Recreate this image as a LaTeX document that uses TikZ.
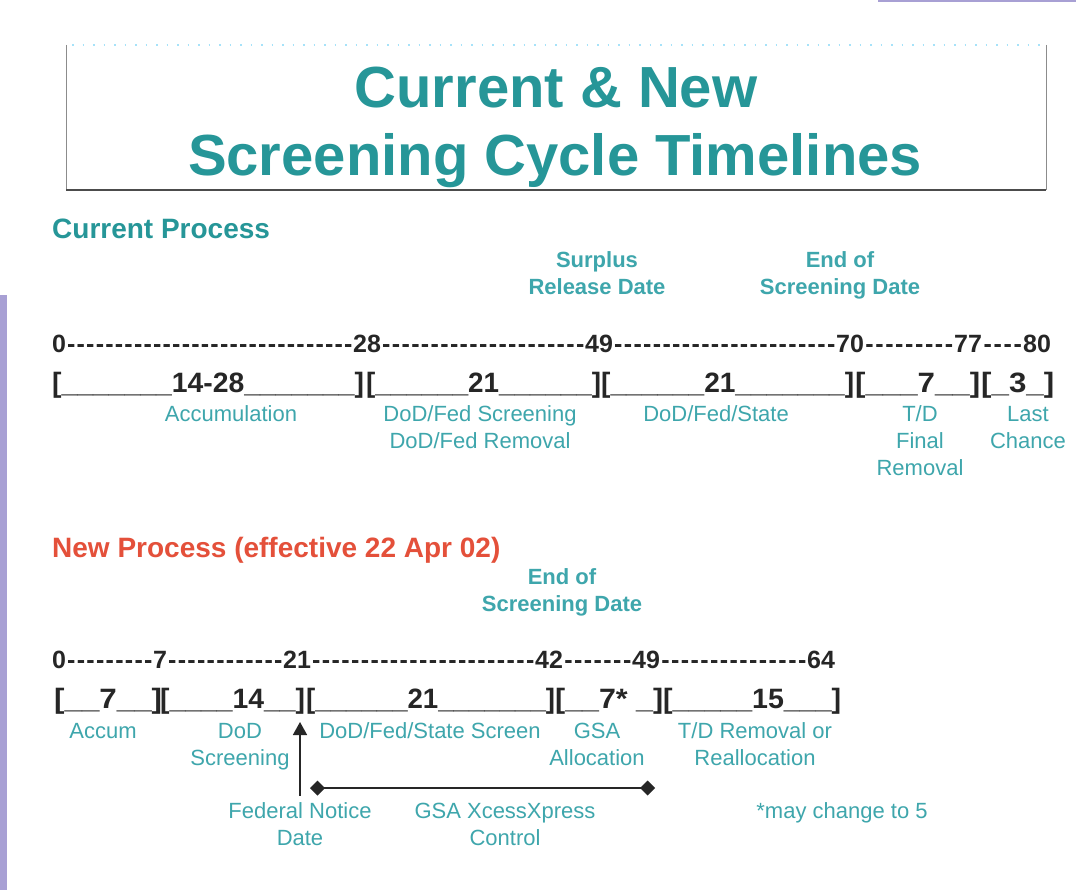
\documentclass[tikz,border=0pt]{standalone}
\usepackage{fontspec}
\setmainfont{Liberation Sans}
\usepackage{graphicx}
\usetikzlibrary{arrows.meta,calc}
\definecolor{tealT}{RGB}{38,150,152}
\definecolor{tealL}{RGB}{62,166,172}
\definecolor{redH}{RGB}{228,80,58}
\definecolor{lav}{RGB}{168,160,212}
\definecolor{ink}{RGB}{38,38,38}
\newcommand\numfont{\fontsize{25}{25}\selectfont\bfseries}
\newcommand\segfont{\fontsize{28}{28}\selectfont\bfseries}
\newcommand\seg[2]{\resizebox{#1}{\height}{#2}}
\newcommand\hyfill[2]{%
  \path let \p1=(#1.base east), \p2=(#2.base west) in
    node[numrow, anchor=base west] at (\p1)
      {\hbox to \dimexpr\x2-\x1\relax{\xleaders\hbox{\kern0.6pt-\kern0.6pt}\hfill}};}
\tikzset{
  numrow/.style={font=\numfont, text=ink, inner sep=0pt, anchor=base west},
  segrow/.style={font=\segfont, text=ink, inner sep=0pt, anchor=base west},
  lab/.style={font=\fontsize{22}{27}\selectfont, text=tealL, align=center, inner sep=0pt, anchor=base},
  blab/.style={lab, font=\fontsize{22}{27}\selectfont\bfseries},
  head/.style={font=\fontsize{28}{30}\selectfont\bfseries, inner sep=0pt, anchor=base west},
  ttl/.style={font=\fontsize{58}{60}\selectfont\bfseries, text=tealT, inner sep=0pt, anchor=base},
  dtip/.tip={Turned Square[width=15pt,length=15pt]},
}
\begin{document}
\begin{tikzpicture}[x=1pt,y=-1pt]
\useasboundingbox (0,0) rectangle (1076,890);
\fill[white] (0,0) rectangle (1076,890);
% side decorations
\fill[lav] (0,295) rectangle (7,890);
\fill[lav] (878,0) rectangle (1076,2);
% title box
\draw[black!45, line width=1pt] (66,45) -- (66,190);
\draw[black!45, line width=1pt] (1046,45) -- (1046,190);
\draw[black!70, line width=2.5pt] (66,190) -- (1046,190);
\draw[cyan!35, line width=1.2pt, dash pattern=on 1.5pt off 9pt] (72,45) -- (1040,45);
\node[ttl] (t1) at (556,108) {Current \& New};
\node[ttl] (t2) at (555,176) {Screening Cycle Timelines};

% ---------- current process ----------
\node[head, text=tealT] (hc) at (52,239) {Current Process};
% (multi-line labels: y is the baseline of the last line)
\node[blab] (srd) at (597,295) {Surplus\\Release Date};
\node[blab] (esd) at (840,295) {End of\\Screening Date};

\node[numrow] (c0)  at (52,353)  {0};
\node[numrow] (c28) at (353,353) {28};
\node[numrow] (c49) at (585,353) {49};
\node[numrow] (c70) at (836,353) {70};
\node[numrow] (c77) at (954,353) {77};
\node[numrow] (c80) at (1023,353) {80};
\hyfill{c0}{c28}
\hyfill{c28}{c49}
\hyfill{c49}{c70}
\hyfill{c70}{c77}
\hyfill{c77}{c80}

\node[segrow] (cs1) at (52,392)  {\seg{312pt}{[\_\_\_\_\_\_\_14-28\_\_\_\_\_\_\_]}};
\node[segrow] (cs2) at (366,392) {\seg{235pt}{[\_\_\_\_\_\_21\_\_\_\_\_\_]}};
\node[segrow] (cs3) at (601,392) {\seg{253pt}{[\_\_\_\_\_\_21\_\_\_\_\_\_\_]}};
\node[segrow] (cs4) at (855,392) {\seg{125pt}{[\_\_\_7\_\_]}};
\node[segrow] (cs5) at (981,392) {\seg{73pt}{[\_3\_]}};

\node[lab] (acc)  at (231,421)  {Accumulation};
\node[lab] (dfs)  at (480,448)  {DoD/Fed Screening\\DoD/Fed Removal};
\node[lab] (dfst) at (716,421)  {DoD/Fed/State};
\node[lab] (tdf)  at (920,475)  {T/D\\Final\\Removal};
\node[lab] (lc)   at (1028,448) {Last\\Chance};

% ---------- new process ----------
\node[head, text=redH] (hn) at (52,557) {New Process (effective 22 Apr 02)};
\node[blab] (esd2) at (562,611) {End of\\Screening Date};

\node[numrow] (n0)  at (52,668)  {0};
\node[numrow] (n7)  at (153,668) {7};
\node[numrow] (n21) at (283,668) {21};
\node[numrow] (n42) at (535,668) {42};
\node[numrow] (n49) at (632,668) {49};
\node[numrow] (n64) at (807,668) {64};
\hyfill{n0}{n7}
\hyfill{n7}{n21}
\hyfill{n21}{n42}
\hyfill{n42}{n49}
\hyfill{n49}{n64}

\node[segrow] (ns1) at (54,708)  {\seg{108pt}{[\_\_7\_\_]}};
\node[segrow] (ns2) at (160,708) {\seg{145pt}{[\_\_\_\_14\_\_]}};
\node[segrow] (ns3) at (306,708) {\seg{249pt}{[\_\_\_\_\_\_21\_\_\_\_\_\_\_]}};
\node[segrow] (ns4) at (555,708) {\seg{108pt}{[\_\_7* \_]}};
\node[segrow] (ns5) at (663,708) {\seg{178pt}{[\_\_\_\_\_15\_\_\_]}};

\node[lab] (accm) at (103,738) {Accum};
\node[lab] (dods) at (240,765) {DoD\\Screening};
\node[lab] (dfss) at (430,738) {DoD/Fed/State Screen};
\node[lab] (gsaa) at (597,765) {GSA\\Allocation};
\node[lab] (tdr)  at (755,765) {T/D Removal or\\Reallocation};

\node[lab] (fed)  at (300,845) {Federal Notice\\Date};
\node[lab] (gsax) at (505,845) {GSA XcessXpress\\Control};
\node[lab] (may)  at (842,818) {*may change to 5};

\coordinate (ftip) at (300,722);
\draw[ink, line width=1.6pt, -{Triangle[width=14pt,length=13pt]}, shorten <=6pt] (fed.north) -- (fed.north |- ftip);

\coordinate (gl) at (310,788);
\coordinate (gr) at (655,788);
\draw[ink, line width=2pt, {dtip}-{dtip}] (gl) -- (gr);
\end{tikzpicture}
\end{document}
